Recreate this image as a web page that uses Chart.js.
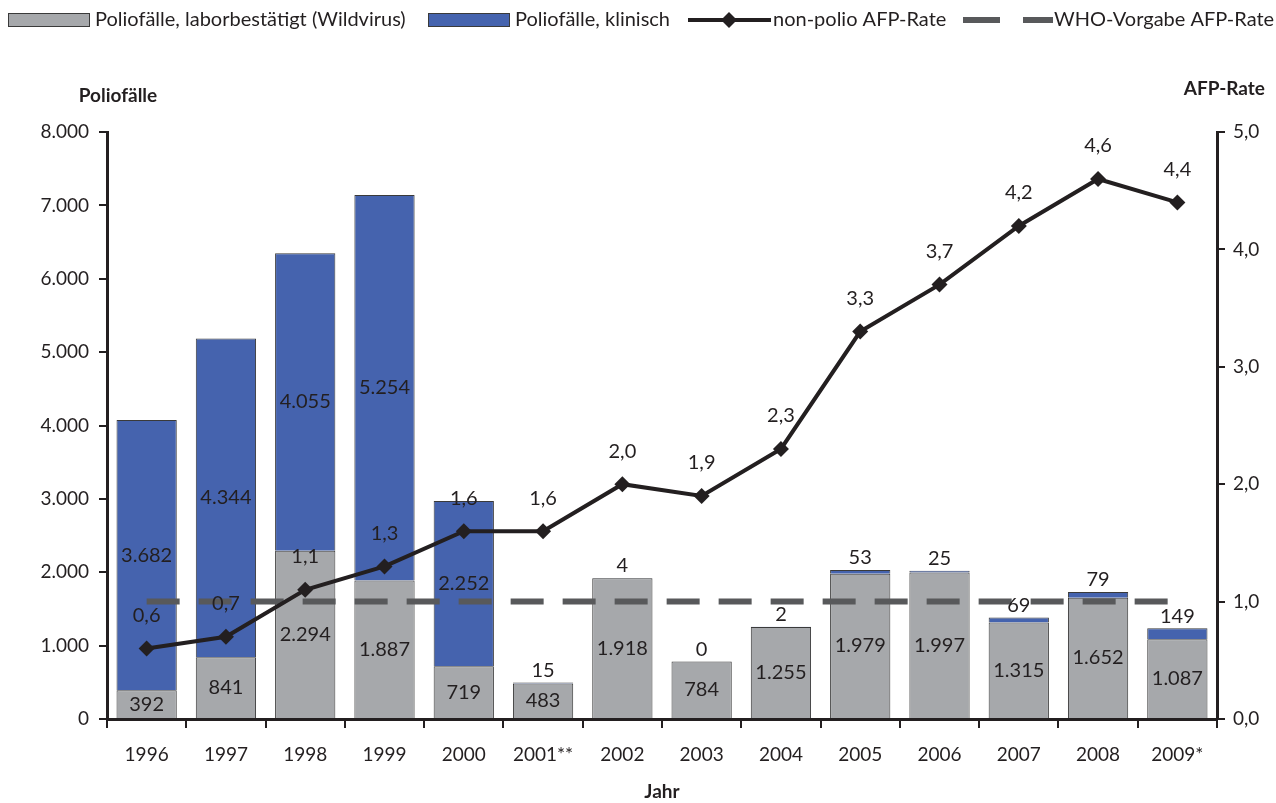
<!DOCTYPE html>
<html lang="de">
<head>
<meta charset="utf-8">
<title>Poliofälle und AFP-Rate</title>
<script src="https://cdn.jsdelivr.net/npm/chart.js@4"></script>
<style>
	html, body { margin: 0; padding: 0; background: #fff; }
	#wrap { width: 1276px; height: 803px; position: relative; }
</style>
</head>
<body>
<div id="wrap"><canvas id="chart-polio"></canvas></div>
<script>
// Chart data
const YEARS = ["1996", "1997", "1998", "1999", "2000", "2001**", "2002", "2003", "2004", "2005", "2006", "2007", "2008", "2009*"];
const LAB_CASES = [392, 841, 2294, 1887, 719, 483, 1918, 784, 1255, 1979, 1997, 1315, 1652, 1087];
const CLINICAL_CASES = [3682, 4344, 4055, 5254, 2252, 15, 4, 0, 2, 53, 25, 69, 79, 149];
const AFP_RATE = [0.6, 0.7, 1.1, 1.3, 1.6, 1.6, 2.0, 1.9, 2.3, 3.3, 3.7, 4.2, 4.6, 4.4];
const WHO_TARGET = [1.0, 1.0, 1.0, 1.0, 1.0, 1.0, 1.0, 1.0, 1.0, 1.0, 1.0, 1.0, 1.0, 1.0];
const CASES_MAX = 8000;
const CASES_STEP = 1000;
const RATE_MAX = 5;
const RATE_STEP = 1;

const FONT = "Lato, 'Open Sans', sans-serif";
const INK = "#231f20";
const GRAY = "#a6a8ab";
const BLUE = "#4563ae";
const DASH = "#58595b";

const fmtThousands = (n) => String(n).replace(/\B(?=(\d{3})+(?!\d))/g, ".");
const fmtRate = (n) => n.toFixed(1).replace(".", ",");

// labels on bars and points
const valueLabels = {
	id: "valueLabels",
	afterDatasetsDraw(chart) {
		const ctx = chart.ctx;
		ctx.save();
		ctx.fillStyle = INK;
		ctx.font = "20px " + FONT;
		ctx.textAlign = "center";
		ctx.textBaseline = "middle";

		chart.getDatasetMeta(0).data.forEach((bar, i) => {
			ctx.fillText(fmtThousands(LAB_CASES[i]), bar.x, (bar.y + bar.base) / 2);
		});
		chart.getDatasetMeta(1).data.forEach((bar, i) => {
			const v = CLINICAL_CASES[i];
			if (v >= 500) {
				ctx.fillText(fmtThousands(v), bar.x, (bar.y + bar.base) / 2);
			} else {
				ctx.fillText(fmtThousands(v), bar.x, bar.y - 12);
			}
		});
		chart.getDatasetMeta(2).data.forEach((pt, i) => {
			ctx.fillText(fmtRate(AFP_RATE[i]), pt.x, pt.y - 33);
		});
		ctx.restore();
	},
	afterDraw(chart) {
		const ctx = chart.ctx;
		ctx.save();
		ctx.fillStyle = INK;
		ctx.textBaseline = "middle";

		// axis titles
		ctx.font = "bold 19px " + FONT;
		ctx.textAlign = "center";
		ctx.fillText("Poliofälle", 118, 96);
		ctx.textAlign = "right";
		ctx.fillText("AFP-Rate", 1265, 89);

		// legend
		ctx.font = "20px " + FONT;
		ctx.textAlign = "left";
		const y = 20;
		const ds = chart.data.datasets;
		// bar swatches
		[[0, 8], [1, 428]].forEach(([k, x]) => {
			ctx.fillStyle = ds[k].backgroundColor;
			ctx.fillRect(x, y - 7, 82, 14);
			ctx.strokeStyle = "#3a3a3a";
			ctx.lineWidth = 1;
			ctx.strokeRect(x + 0.5, y - 6.5, 81, 13);
			ctx.fillStyle = INK;
			ctx.fillText(ds[k].label, x + 87, y);
		});
		// line with diamond
		let x = 688;
		ctx.strokeStyle = INK;
		ctx.lineWidth = 4;
		ctx.beginPath();
		ctx.moveTo(x, y);
		ctx.lineTo(x + 83, y);
		ctx.stroke();
		ctx.fillStyle = INK;
		ctx.beginPath();
		ctx.moveTo(x + 41, y - 8);
		ctx.lineTo(x + 49, y);
		ctx.lineTo(x + 41, y + 8);
		ctx.lineTo(x + 33, y);
		ctx.closePath();
		ctx.fill();
		ctx.fillText(ds[2].label, x + 85, y);
		// dashed line
		x = 963;
		ctx.strokeStyle = DASH;
		ctx.lineWidth = 6;
		ctx.beginPath();
		ctx.moveTo(x, y);
		ctx.lineTo(x + 37, y);
		ctx.moveTo(x + 60, y);
		ctx.lineTo(x + 90, y);
		ctx.stroke();
		ctx.fillStyle = INK;
		ctx.fillText(ds[3].label, x + 91, y);
		ctx.restore();
	},
};

const DATA = {
	labels: YEARS,
	datasets: [
		{
			type: "bar",
			label: "Poliofälle, laborbestätigt (Wildvirus)",
			data: LAB_CASES,
			backgroundColor: GRAY,
			borderColor: "#3a3a3a",
			borderWidth: 1,
			yAxisID: "y",
			stack: "cases",
			order: 3,
		},
		{
			type: "bar",
			label: "Poliofälle, klinisch",
			data: CLINICAL_CASES,
			backgroundColor: BLUE,
			borderColor: "#3a3a3a",
			borderWidth: 1,
			yAxisID: "y",
			stack: "cases",
			order: 3,
		},
		{
			type: "line",
			label: "non-polio AFP-Rate",
			data: AFP_RATE,
			borderColor: INK,
			backgroundColor: INK,
			borderWidth: 4,
			pointStyle: "rectRot",
			pointRadius: 8,
			pointBorderWidth: 0,
			tension: 0,
			yAxisID: "y1",
			order: 1,
		},
		{
			type: "line",
			label: "WHO-Vorgabe AFP-Rate",
			data: WHO_TARGET,
			borderColor: DASH,
			borderWidth: 6,
			borderDash: [33, 19],
			borderCapStyle: "butt",
			pointRadius: 0,
			yAxisID: "y1",
			order: 2,
		},
	],
};

const CONFIG = {
	data: DATA,
	options: {
		responsive: true,
		maintainAspectRatio: false,
		animation: false,
		layout: {
			padding: { top: 132, left: 0, right: 0, bottom: 0 },
		},
		datasets: {
			bar: {
				barPercentage: 0.76,
				categoryPercentage: 1,
			},
		},
		plugins: {
			legend: { display: false },
			title: { display: false },
			tooltip: { enabled: false },
		},
		scales: {
			x: {
				stacked: true,
				afterFit: (s) => { s.height = 84; },
				border: { display: true, color: INK, width: 3 },
				grid: {
					display: true,
					offset: true,
					drawOnChartArea: false,
					drawTicks: true,
					tickLength: 9,
					color: INK,
					lineWidth: 2,
				},
				ticks: {
					color: INK,
					font: { family: FONT, size: 19 },
					padding: 15,
					maxRotation: 0,
				},
				title: {
					display: true,
					text: "Jahr",
					color: INK,
					font: { family: FONT, size: 19, weight: "bold" },
					padding: { top: 0, bottom: 0 },
				},
			},
			y: {
				stacked: true,
				position: "left",
				min: 0,
				max: CASES_MAX,
				afterFit: (s) => { s.width = 107; },
				border: { display: true, color: INK, width: 3 },
				grid: {
					drawOnChartArea: false,
					drawTicks: true,
					tickLength: 8,
					color: INK,
					lineWidth: 2,
				},
				ticks: {
					stepSize: CASES_STEP,
					color: INK,
					padding: 10,
					font: { family: FONT, size: 19 },
					callback: (v) => fmtThousands(v),
				},
			},
			y1: {
				position: "right",
				min: 0,
				max: RATE_MAX,
				afterFit: (s) => { s.width = 59; },
				border: { display: true, color: INK, width: 3 },
				grid: {
					drawOnChartArea: false,
					drawTicks: true,
					tickLength: 8,
					color: INK,
					lineWidth: 2,
				},
				ticks: {
					stepSize: RATE_STEP,
					color: INK,
					padding: 8,
					font: { family: FONT, size: 19 },
					callback: (v) => fmtRate(v),
				},
			},
		},
	},
	plugins: [valueLabels],
};

// Init chart
const WRAPPER = document.getElementById("chart-polio");
if (WRAPPER) {
	new Chart(WRAPPER, CONFIG);
}
</script>
</body>
</html>
